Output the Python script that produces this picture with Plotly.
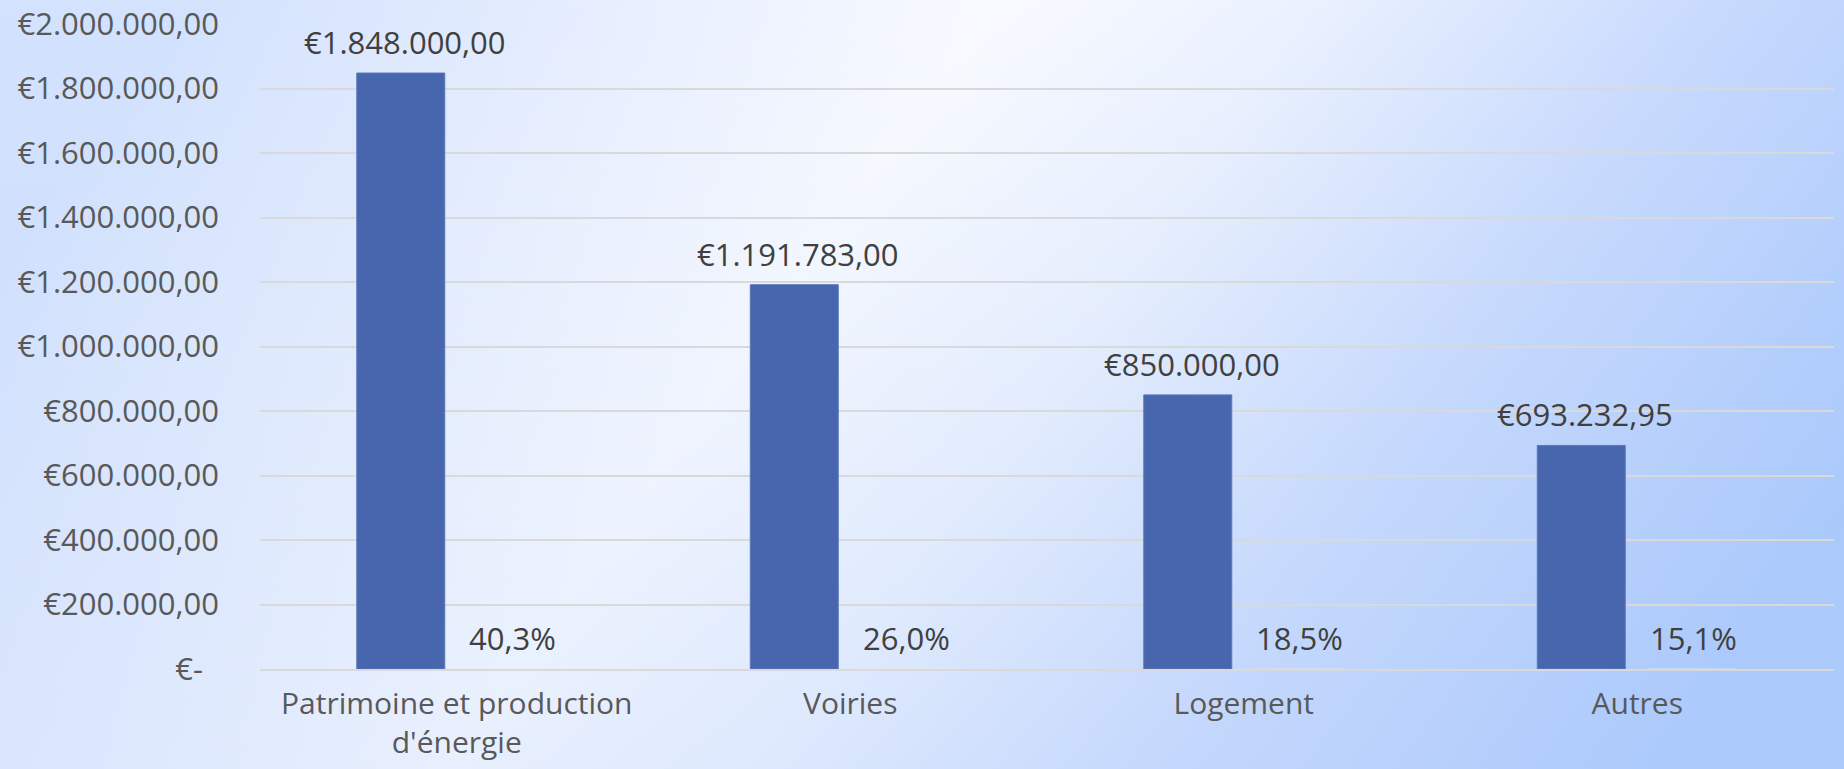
import base64
import plotly.graph_objects as go

categories = ["Patrimoine et production<br>d'énergie", "Voiries", "Logement", "Autres"]
amounts = [1848000.00, 1191783.00, 850000.00, 693232.95]
shares = [0.403, 0.260, 0.185, 0.151]
tick_values = [0, 200000, 400000, 600000, 800000, 1000000, 1200000, 1400000, 1600000, 1800000, 2000000]
tick_labels = ["€-\u00a0\u00a0", "€200.000,00", "€400.000,00", "€600.000,00", "€800.000,00",
               "€1.000.000,00", "€1.200.000,00", "€1.400.000,00", "€1.600.000,00", "€1.800.000,00",
               "€2.000.000,00"]

W, H = 1844, 769
ML, MR, MT, MB = 260, 10, 24, 100
PW, PH = W - ML - MR, H - MT - MB

svg = f"""<svg xmlns='http://www.w3.org/2000/svg' width='{W}' height='{H}' viewBox='0 0 {W} {H}' preserveAspectRatio='none'>
<defs>
<linearGradient id='g' x1='0' y1='0.35' x2='1' y2='0.65'>
<stop offset='0' stop-color='#D3E2FD'/>
<stop offset='0.2' stop-color='#E6EEFE'/>
<stop offset='0.4' stop-color='#F8FAFF'/>
<stop offset='0.56' stop-color='#EAF1FE'/>
<stop offset='0.76' stop-color='#C8DAFD'/>
<stop offset='1' stop-color='#A8C8FC'/>
</linearGradient>
<linearGradient id='v' x1='0' y1='0' x2='0' y2='1'>
<stop offset='0' stop-color='#B8D0FA' stop-opacity='0'/>
<stop offset='1' stop-color='#B8D0FA' stop-opacity='0.25'/>
</linearGradient>
</defs>
<rect width='{W}' height='{H}' fill='url(#g)'/>
<rect width='{W}' height='{H}' fill='url(#v)'/>
</svg>"""
bg_uri = "data:image/svg+xml;base64," + base64.b64encode(svg.encode()).decode()

font_family = "Century Gothic, 'Open Sans', sans-serif"
FS = 31


def fmt_eur(v):
    s = f"{v:,.2f}".replace(",", "X").replace(".", ",").replace("X", ".")
    return "€" + s


fig = go.Figure()
fig.add_trace(go.Bar(
    x=categories, y=amounts, marker=dict(color="#4866AE", line=dict(color="#5B78BC", width=1)),
    hoverinfo="skip",
))
fig.add_trace(go.Bar(
    x=categories, y=shares, marker=dict(color="rgba(0,0,0,0)"),
    hoverinfo="skip",
))

annotations = []
for cat, amt, sh in zip(categories, amounts, shares):
    annotations.append(dict(
        x=cat, y=amt, xref="x", yref="y", text=fmt_eur(amt),
        showarrow=False, xanchor="center", yanchor="bottom", xshift=-52, yshift=8,
        font=dict(size=FS, color="#404040", family=font_family)))
    annotations.append(dict(
        x=cat, y=0, xref="x", yref="y", text=f"{sh * 100:.1f}%".replace(".", ","),
        showarrow=False, xanchor="center", yanchor="bottom", xshift=56, yshift=8,
        font=dict(size=FS, color="#404040", family=font_family)))

fig.update_layout(
    width=W, height=H,
    margin=dict(l=ML, r=MR, t=MT, b=MB),
    barmode="group", bargap=0.431, bargroupgap=0.214,
    showlegend=False,
    paper_bgcolor="#EEF3FE", plot_bgcolor="rgba(0,0,0,0)",
    font=dict(family=font_family, size=FS, color="#595959"),
    annotations=annotations,
    images=[dict(source=bg_uri, xref="paper", yref="paper",
                 x=-ML / PW, y=1 + MT / PH, sizex=W / PW, sizey=H / PH,
                 sizing="stretch", xanchor="left", yanchor="top", layer="below")],
)
fig.update_yaxes(range=[0, 2000000], tickvals=tick_values, ticktext=tick_labels,
                 showgrid=True, gridcolor="#D9D9D9", gridwidth=2, automargin=False,
                 zeroline=False, showline=False, ticks="", ticklabelstandoff=40,
                 tickfont=dict(size=FS, color="#595959"))
fig.update_xaxes(showgrid=False, showline=True, linecolor="#D9D9D9", linewidth=2, ticks="",
                 automargin=False, ticklabelstandoff=7,
                 tickfont=dict(size=30, color="#595959"))

fig.write_html("out.html", config={"displayModeBar": False},
               post_script="document.body.style.margin='0';document.body.style.overflow='hidden';")
